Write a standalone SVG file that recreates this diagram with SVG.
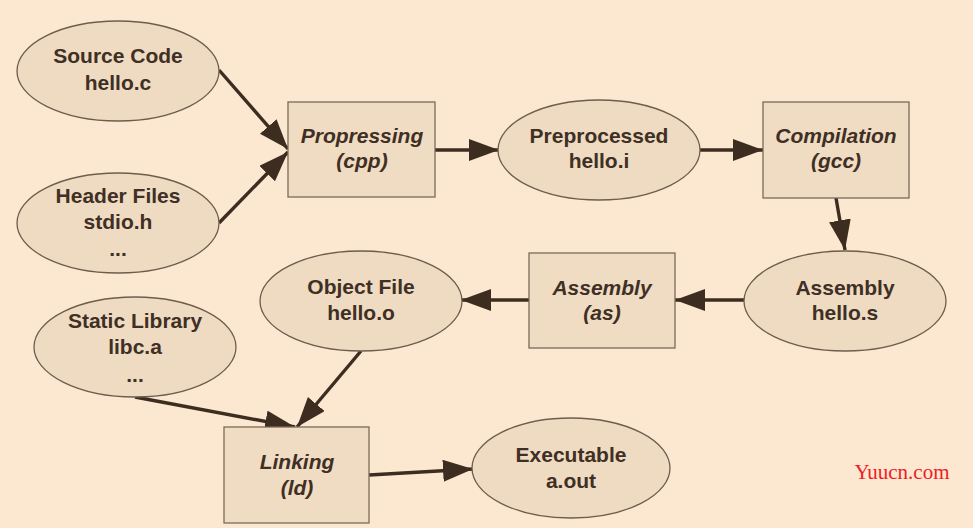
<svg xmlns="http://www.w3.org/2000/svg" width="973" height="528" viewBox="0 0 973 528">
<defs>
<marker id="ah" markerUnits="userSpaceOnUse" markerWidth="32" markerHeight="24" refX="30" refY="11" orient="auto">
<path d="M0,0 L30,11 L0,22 Z" fill="#3d2c20"/>
</marker>
<style>
.n ellipse{fill:#eedbc2;stroke:#6e5d4d;stroke-width:1.3}
.n rect{fill:#efdcc3;stroke:#7a6a5a;stroke-width:1.3}
.t{font-family:"Liberation Sans",Arial,sans-serif;font-weight:bold;font-size:21px;fill:#3f2f24;text-anchor:middle}
.i{font-style:italic}
.c line{stroke:#3d2c20;stroke-width:3.4;marker-end:url(#ah)}
</style>
</defs>
<rect width="973" height="528" fill="#fce8d0"/>
<g id="connectors" class="c">
<line x1="219" y1="70" x2="288" y2="149"/>
<line x1="219" y1="223" x2="288" y2="152"/>
<line x1="435" y1="150" x2="499" y2="150"/>
<line x1="700" y1="150" x2="763" y2="150"/>
<line x1="836" y1="198" x2="845" y2="250"/>
<line x1="744" y1="300" x2="675" y2="300"/>
<line x1="529" y1="300" x2="461" y2="300"/>
<line x1="135" y1="397" x2="295" y2="427"/>
<line x1="361" y1="351" x2="297" y2="427"/>
<line x1="369" y1="475" x2="473" y2="469"/>
</g>
<g id="source" class="n"><ellipse cx="118" cy="71" rx="101" ry="50"/><text class="t" x="118" y="63">Source Code</text><text class="t" x="118" y="90">hello.c</text></g>
<g id="header" class="n"><ellipse cx="118" cy="223" rx="101" ry="50"/><text class="t" x="118" y="203">Header Files</text><text class="t" x="118" y="229">stdio.h</text><text class="t" x="118" y="256">...</text></g>
<g id="propressing" class="n"><rect x="288" y="102" width="147" height="95"/><text class="t i" x="362" y="143">Propressing</text><text class="t i" x="362" y="168">(cpp)</text></g>
<g id="preprocessed" class="n"><ellipse cx="599" cy="150" rx="101" ry="50"/><text class="t" x="599" y="143">Preprocessed</text><text class="t" x="599" y="168">hello.i</text></g>
<g id="compilation" class="n"><rect x="763" y="102" width="146" height="96"/><text class="t i" x="836" y="143">Compilation</text><text class="t i" x="836" y="168">(gcc)</text></g>
<g id="assemblys" class="n"><ellipse cx="845" cy="301" rx="101" ry="50"/><text class="t" x="845" y="295">Assembly</text><text class="t" x="845" y="320">hello.s</text></g>
<g id="assembly" class="n"><rect x="529" y="253" width="146" height="95"/><text class="t i" x="602" y="295">Assembly</text><text class="t i" x="602" y="320">(as)</text></g>
<g id="object" class="n"><ellipse cx="361" cy="301" rx="101" ry="50"/><text class="t" x="361" y="294">Object File</text><text class="t" x="361" y="320">hello.o</text></g>
<g id="static" class="n"><ellipse cx="135" cy="347" rx="101" ry="50"/><text class="t" x="135" y="328">Static Library</text><text class="t" x="135" y="354">libc.a</text><text class="t" x="135" y="382">...</text></g>
<g id="linking" class="n"><rect x="224" y="427" width="145" height="96"/><text class="t i" x="297" y="469">Linking</text><text class="t i" x="297" y="495">(ld)</text></g>
<g id="executable" class="n"><ellipse cx="571" cy="468" rx="99" ry="50"/><text class="t" x="571" y="462">Executable</text><text class="t" x="571" y="488">a.out</text></g>
<text x="902" y="479" font-family="'Liberation Serif','Times New Roman',serif" font-size="21" fill="#ee1c25" text-anchor="middle">Yuucn.com</text>
</svg>
